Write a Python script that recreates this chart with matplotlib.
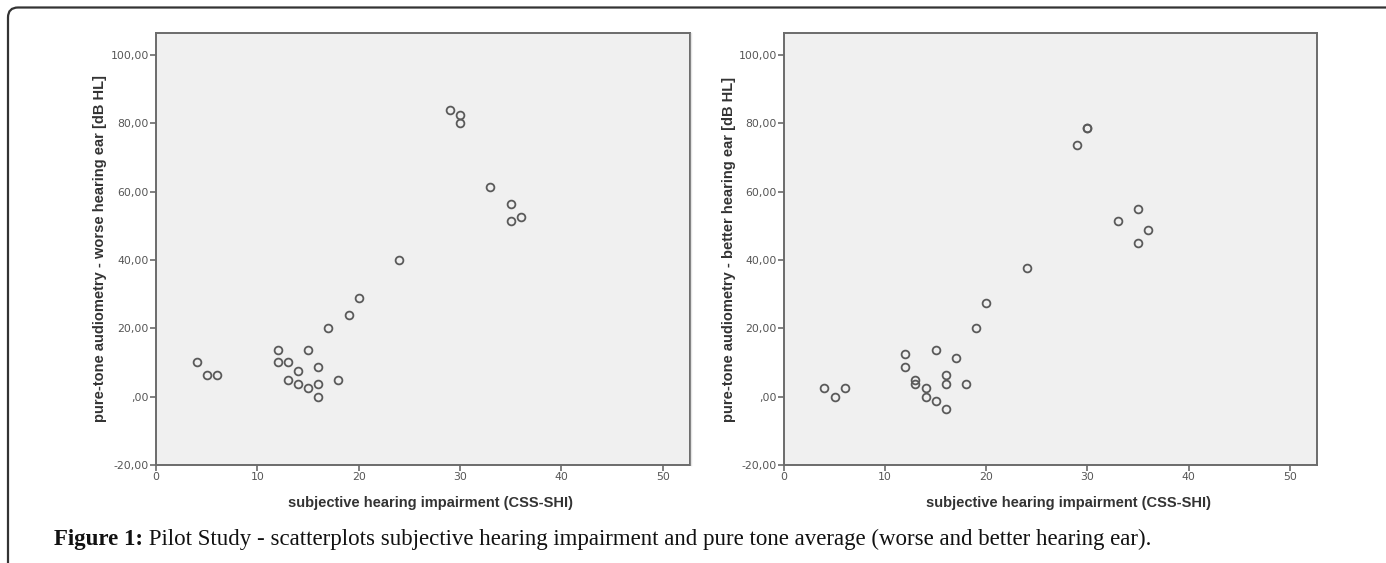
import matplotlib
matplotlib.use("Agg")
import matplotlib.pyplot as plt
from matplotlib.patches import FancyBboxPatch
from matplotlib.lines import Line2D

# pilot study data: CSS-SHI score vs pure-tone average
shi_worse = [4, 5, 6, 12, 12, 13, 13, 14, 14, 15, 15, 16, 16, 16, 17, 18, 19, 20,
             24, 29, 30, 30, 33, 35, 35, 36]
pta_worse = [10.0, 6.25, 6.25, 13.75, 10.0, 10.0, 5.0, 7.5, 3.75, 13.75, 2.5, 8.75,
             3.75, 0.0, 20.0, 5.0, 23.75, 28.75, 40.0, 83.75, 82.5, 80.0, 61.25,
             56.25, 51.25, 52.5]

shi_better = [4, 5, 6, 12, 12, 13, 13, 14, 14, 15, 15, 16, 16, 16, 17, 18, 19, 20,
              24, 29, 30, 30, 33, 35, 35, 36]
pta_better = [2.5, 0.0, 2.5, 12.5, 8.75, 5.0, 3.75, 2.5, 0.0, 13.75, -1.25, 6.25,
              3.75, -3.75, 11.25, 3.75, 20.0, 27.5, 37.5, 73.75, 78.75, 78.75,
              51.25, 55.0, 45.0, 48.75]

y_ticks = [-20, 0, 20, 40, 60, 80, 100]
y_ticklabels = ["-20,00", ",00", "20,00", "40,00", "60,00", "80,00", "100,00"]
x_ticks = [0, 10, 20, 30, 40, 50]

x_label = "subjective hearing impairment (CSS-SHI)"
y_labels = ["pure-tone audiometry - worse hearing ear [dB HL]",
            "pure-tone audiometry - better hearing ear [dB HL]"]
caption_bold = "Figure 1:"
caption_rest = " Pilot Study - scatterplots subjective hearing impairment and pure tone average (worse and better hearing ear)."

W, H = 1386, 563
fig = plt.figure(figsize=(W / 100, H / 100), dpi=100, facecolor="white")

tick_font = ["Liberation Sans Narrow", "DejaVu Sans"]
label_font = ["Liberation Sans", "DejaVu Sans"]
frame_col = "#6b6b6b"


def px(x0, y0, x1, y1):
    # pixel box (top-left origin) -> figure fraction rect
    return [x0 / W, 1 - y1 / H, (x1 - x0) / W, (y1 - y0) / H]


panels = [
    (px(156, 33, 690, 465), shi_worse, pta_worse, y_labels[0], 100, 430),
    (px(784, 33, 1317, 465), shi_better, pta_better, y_labels[1], 729, 1068),
]

for rect, xs, ys, ylab, ylab_x, xlab_x in panels:
    ax = fig.add_axes(rect)
    ax.set_facecolor("#f0f0f0")
    ax.plot(xs, ys, "o", ms=5.6, mfc="none", mec="#5a5a5a", mew=1.3, ls="none")
    ax.set_xlim(0, 52.7)
    ax.set_ylim(-20, 106.4)
    ax.set_yticks(y_ticks)
    ax.set_yticklabels(y_ticklabels)
    ax.set_xticks(x_ticks)
    for spine in ax.spines.values():
        spine.set_color(frame_col)
        spine.set_linewidth(1.4)
    ax.tick_params(axis="both", direction="out", length=4, width=1.2, color=frame_col,
                   labelcolor="#555555", labelsize=7.8, pad=1)
    for lab in ax.get_xticklabels() + ax.get_yticklabels():
        lab.set_family(tick_font)
    fig.text(ylab_x / W, 1 - 249 / H, ylab, rotation=90, ha="center", va="center",
             fontsize=10.5, fontweight="bold", color="#333333", family=label_font)
    fig.text(xlab_x / W, 1 - 503 / H, x_label, ha="center", va="center",
             fontsize=10.5, fontweight="bold", color="#333333", family=label_font)

# rounded frame (only top and left edges visible)
frame = FancyBboxPatch((8, -60), 1500, H - 7.5 + 60, boxstyle="round,pad=0,rounding_size=10",
                       transform=None, fill=False, edgecolor="#333333", linewidth=1.6)
fig.add_artist(frame)
fig.add_artist(Line2D([691, 691], [H - 465, H - 33], transform=None, color="#e4e4e4", lw=1))

# caption
serif = ["Liberation Serif", "DejaVu Serif"]
t1 = fig.text(54 / W, 1 - 539 / H, caption_bold, ha="left", va="center", fontsize=16.5,
              fontweight="bold", family=serif, color="#111111")
fig.canvas.draw()
bb = t1.get_window_extent(renderer=fig.canvas.get_renderer())
fig.text(bb.x1 / W, 1 - 539 / H, caption_rest, ha="left", va="center", fontsize=16.5,
         family=serif, color="#111111")

fig.savefig("out.png", dpi=100, facecolor="white")
